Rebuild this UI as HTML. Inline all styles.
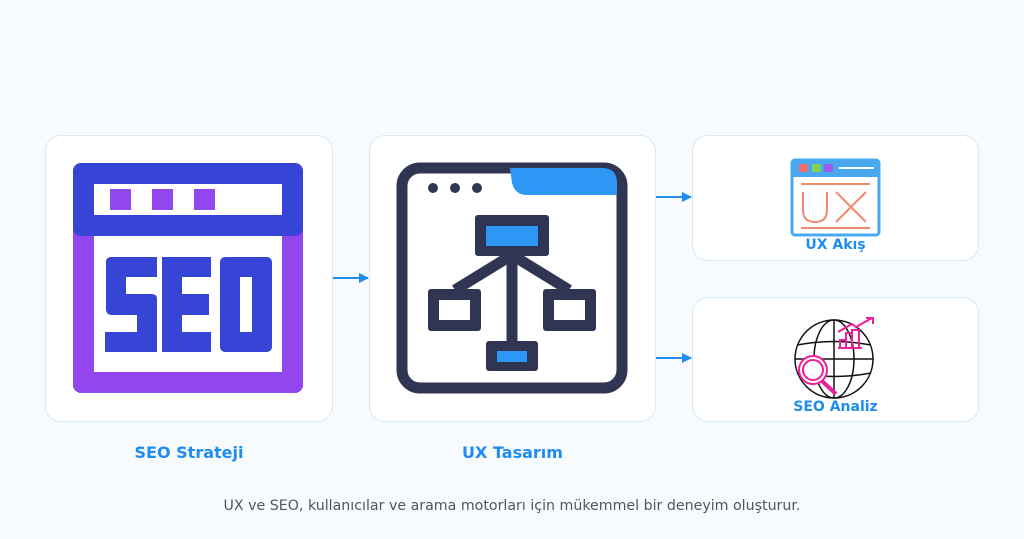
<!DOCTYPE html>
<html><head><style>
body{margin:0;width:1024px;height:539px;background:#f7fbfd;position:relative;font-family:"DejaVu Sans","Liberation Sans",sans-serif;overflow:hidden}
.card{position:absolute;background:#fff;border:1.5px solid #d8eaf5;border-radius:16px;box-sizing:border-box}
.lbl{position:absolute;font-weight:bold;color:#1e8cf0;font-size:15px;text-align:center}
</style></head><body>
<div class="card" style="left:45px;top:135px;width:288px;height:287px"></div>
<div class="card" style="left:369px;top:135px;width:287px;height:287px"></div>
<div class="card" style="left:692px;top:135px;width:287px;height:126px"></div>
<div class="card" style="left:692px;top:297px;width:287px;height:125px"></div>
<svg width="1024" height="539" style="position:absolute;left:0;top:0">
<defs><marker id="a" markerWidth="10" markerHeight="10" refX="9" refY="5" orient="auto" markerUnits="userSpaceOnUse"><path d="M0,0 L10,5 L0,10z" fill="#1e8cf0"/></marker></defs>
<g stroke="#1e8cf0" stroke-width="2" marker-end="url(#a)">
<line x1="333" y1="278" x2="368" y2="278"/><line x1="656" y1="197" x2="691" y2="197"/><line x1="656" y1="358" x2="691" y2="358"/></g>
<rect x="73" y="163" width="230" height="230" rx="8" fill="#9146ee"/>
<rect x="94" y="236" width="188" height="136" fill="#fff"/>
<rect x="73" y="163" width="230" height="73" rx="8" fill="#3745d6"/>
<rect x="94" y="184" width="188" height="31" fill="#fff"/>
<g fill="#9146ee"><rect x="110" y="189" width="21" height="21"/><rect x="152" y="189" width="21" height="21"/><rect x="194" y="189" width="21" height="21"/></g>
<g fill="#3745d6">
<path d="M108,257 H157 V277 H126 V294 H152 Q157,294 157,299 V352 H105 V332 H137 V315 H112 Q106,315 106,309 V262 Q106,257 111,257z"/>
<path d="M162,257 H211 V277 H182 V294 H209 V315 H182 V332 H211 V352 H162z"/>
<rect x="220" y="257" width="52" height="95" rx="5"/>
</g>
<rect x="240" y="277" width="12" height="55" fill="#fff"/>
<g fill="none" stroke="#2f3552" stroke-width="11">
<rect x="402" y="168" width="220" height="220" rx="18"/>
<line x1="512" y1="255" x2="512" y2="342"/>
<path d="M512,255 L455,290 M512,255 L569,290"/>
</g>
<path d="M510,168 H602 Q617,168 617,183 V195 H527 Q515,195 512,183z" fill="#2e97f5"/>
<g fill="#2f3552"><circle cx="433" cy="188" r="5"/><circle cx="455" cy="188" r="5"/><circle cx="477" cy="188" r="5"/>
<rect x="475" y="215" width="74" height="41" rx="3"/><rect x="428" y="289" width="53" height="42" rx="3"/><rect x="543" y="289" width="53" height="42" rx="3"/><rect x="486" y="341" width="52" height="30" rx="3"/></g>
<rect x="486" y="226" width="52" height="20" fill="#2e97f5"/>
<rect x="439" y="300" width="31" height="20" fill="#fff"/><rect x="554" y="300" width="31" height="20" fill="#fff"/>
<rect x="497" y="351" width="30" height="11" fill="#2e97f5"/>
<rect x="792" y="160" width="87" height="75" rx="3" fill="#fff" stroke="#4aa8f0" stroke-width="3"/>
<rect x="792" y="160" width="87" height="17" fill="#4aa8f0"/>
<rect x="799" y="164" width="9" height="8" rx="2" fill="#ef6b6b"/><rect x="812" y="164" width="9" height="8" rx="2" fill="#7fd34f"/><rect x="824" y="164" width="9" height="8" rx="2" fill="#9b5be8"/>
<line x1="839" y1="168" x2="874" y2="168" stroke="#fff" stroke-width="2"/>
<g stroke="#f08a70" stroke-width="2" fill="none"><line x1="801" y1="184" x2="870" y2="184"/><line x1="801" y1="228" x2="870" y2="228"/>
<path d="M803,192 V210 Q803,222 815,222 Q827,222 827,210 V192"/><path d="M836,192 L866,222 M866,192 L836,222"/></g>
<g fill="none" stroke="#111" stroke-width="1.5">
<circle cx="834" cy="359" r="39"/><ellipse cx="834" cy="359" rx="20" ry="39"/><line x1="834" y1="320" x2="834" y2="398"/>
<path d="M797,345 Q834,338 871,345 M795,359 H873 M797,373 Q834,380 871,373"/></g>
<g fill="none" stroke="#ee1f9b" stroke-width="2">
<circle cx="813" cy="370" r="14" fill="#fff"/><circle cx="813" cy="370" r="10"/><line x1="822" y1="381" x2="836" y2="394" stroke-width="4"/>
<path d="M840,348 V340 H846 V348 M846,348 V333 H852 V348 M852,348 V330 H859 V348 M838,348 H862"/>
<path d="M838,332 L852,324 L856,327 L872,318"/><path d="M866,318 H873 V324"/></g>
</svg>
<div class="lbl" style="left:45px;width:288px;top:443px;font-size:16px">SEO Strateji</div>
<div class="lbl" style="left:369px;width:287px;top:443px;font-size:16px">UX Tasarım</div>
<div class="lbl" style="left:692px;width:287px;top:237px;font-size:14px">UX Akış</div>
<div class="lbl" style="left:692px;width:287px;top:399px;font-size:14px">SEO Analiz</div>
<div style="position:absolute;left:0;width:1024px;top:498px;text-align:center;color:#555;font-size:14.2px">UX ve SEO, kullanıcılar ve arama motorları için mükemmel bir deneyim oluşturur.</div>
</body></html>
